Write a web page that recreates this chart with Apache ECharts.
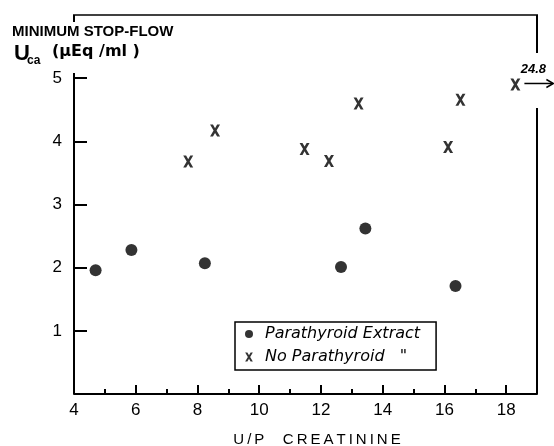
<!DOCTYPE html>
<html>
<head>
<meta charset="utf-8">
<script src="https://cdn.jsdelivr.net/npm/echarts@6/dist/echarts.min.js"></script>
<style>
  html, body { margin: 0; padding: 0; background: #fff; }
  #main { width: 554px; height: 446px; }
</style>
</head>
<body>
<div id="main"></div>
<script>
// 数据：从图上读出来的点
const extractX = [4.7, 5.86, 8.24, 12.65, 13.44, 16.36]
const extractY = [1.96, 2.28, 2.07, 2.01, 2.62, 1.71]
const noParaX = [7.7, 8.57, 11.47, 12.26, 13.22, 16.12, 16.52, 18.3]
const noParaY = [3.68, 4.17, 3.88, 3.69, 4.6, 3.91, 4.66, 4.9]
// 刻度
const xTicks = [4, 6, 8, 10, 12, 14, 16, 18]
const xMinorTicks = [5, 7, 9, 11, 13, 15, 17]
const yTicks = [1, 2, 3, 4, 5]
const seriesNames = ['Parathyroid Extract', 'No Parathyroid']
const xTitle = 'U/P CREATININE'
const offScale = '24.8'

const font = 'Liberation Sans'
const crossPath = 'path://M0,0H3.5L6,4.2L8.5,0H12L7.8,7L12,14H8.5L6,9.8L3.5,14H0L4.2,7Z'

const chart = echarts.init(document.getElementById('main'))

const option = {
    backgroundColor: '#ffffff',
    animation: false,
    grid: { left: 74, right: 17, top: 15, bottom: 52 },
    legend: {
        orient: 'vertical',
        left: 235,
        top: 322,
        borderColor: '#000',
        borderWidth: 1.5,
        padding: [4, 16, 5, 10],
        itemGap: 7,
        itemWidth: 8,
        itemHeight: 9,
        data: [
            { name: seriesNames[0], icon: 'circle' },
            { name: seriesNames[1], icon: crossPath }
        ],
        formatter: name => name === seriesNames[1] ? name + '   "' : name,
        textStyle: {
            fontFamily: 'DejaVu Sans',
            fontStyle: 'italic',
            fontSize: 16,
            color: '#000',
            padding: [0, 0, 0, 7]
        }
    },
    xAxis: [{
        type: 'value',
        min: 4,
        max: 19,
        position: 'bottom',
        axisLine: { show: true, lineStyle: { color: '#000', width: 2 } },
        axisTick: { show: true, inside: true, length: 9, customValues: xTicks, lineStyle: { color: '#000', width: 2 } },
        axisLabel: { customValues: xTicks, color: '#000', fontSize: 17, fontFamily: font, margin: 8 },
        splitLine: { show: false }
    }, {
        // 小刻度
        type: 'value',
        min: 4,
        max: 19,
        position: 'bottom',
        axisLine: { show: false },
        axisTick: { show: true, inside: true, length: 5, customValues: xMinorTicks, lineStyle: { color: '#000', width: 2 } },
        axisLabel: { show: false },
        splitLine: { show: false }
    }],
    yAxis: {
        type: 'value',
        min: 0,
        max: 6,
        axisLine: { show: false },
        axisTick: { show: true, inside: true, length: 13, customValues: yTicks, lineStyle: { color: '#000', width: 2 } },
        axisLabel: { customValues: yTicks, color: '#000', fontSize: 17, fontFamily: font, margin: 12 },
        splitLine: { show: false }
    },
    series: [{
        name: seriesNames[0],
        type: 'scatter',
        symbol: 'circle',
        symbolSize: 12,
        itemStyle: { color: '#000' },
        data: extractX.map((x, i) => [x, extractY[i]])
    }, {
        name: seriesNames[1],
        type: 'scatter',
        symbol: crossPath,
        symbolSize: [10, 12],
        itemStyle: { color: '#000' },
        data: noParaX.map((x, i) => [x, noParaY[i]])
    }]
}
chart.setOption(option)

// 边框、坐标轴标题和 24.8 的箭头
const px = p => chart.convertToPixel({ xAxisIndex: 0, yAxisIndex: 0 }, p)
const tl = px([4, 6]), tr = px([19, 6]), bl = px([4, 0]), br = px([19, 0])
const last = px([noParaX[noParaX.length - 1], noParaY[noParaY.length - 1]])
const line = (x1, y1, x2, y2, w) => ({
    type: 'line',
    shape: { x1, y1, x2, y2 },
    style: { stroke: '#000', lineWidth: w || 2 },
    z: 10
})
const text = (x, y, str, fontSize, extra) => ({
    type: 'text',
    x, y,
    style: Object.assign({
        text: str,
        fontSize,
        fontFamily: font,
        fontWeight: 'bold',
        fill: '#000',
        verticalAlign: 'middle'
    }, extra || {}),
    z: 10
})
// 字母之间加细空格，和原图一样稀疏
const spaced = xTitle.split('').join('\u2009').replace(' ', '   ')
chart.setOption({
    graphic: [
        line(tl[0] - 1, tl[1], tr[0] + 1, tr[1], 1.5),
        line(tl[0], tl[1], tl[0], 22),
        line(bl[0], 73, bl[0], bl[1]),
        line(tr[0], tr[1], tr[0], 53),
        line(br[0], 108, br[0], br[1]),
        text(12, 32, 'MINIMUM STOP-FLOW', 15),
        text(14, 54, 'U', 22),
        text(27, 61, 'ca', 12),
        text(52, 52, '(\u03bcEq /ml )', 16, { fontFamily: 'DejaVu Sans' }),
        text(317, 440, spaced, 15, { fontWeight: 'normal', align: 'center' }),
        text(last[0] + 18, last[1] - 15, offScale, 13, { fontStyle: 'italic', align: 'center' }),
        line(last[0] + 9, last[1] - 1, last[0] + 37, last[1] - 1, 1.5),
        {
            type: 'polyline',
            shape: { points: [[last[0] + 31, last[1] - 5], [last[0] + 38, last[1] - 1], [last[0] + 31, last[1] + 3]] },
            style: { stroke: '#000', lineWidth: 1.5, fill: null },
            z: 10
        }
    ]
})
</script>
</body>
</html>
